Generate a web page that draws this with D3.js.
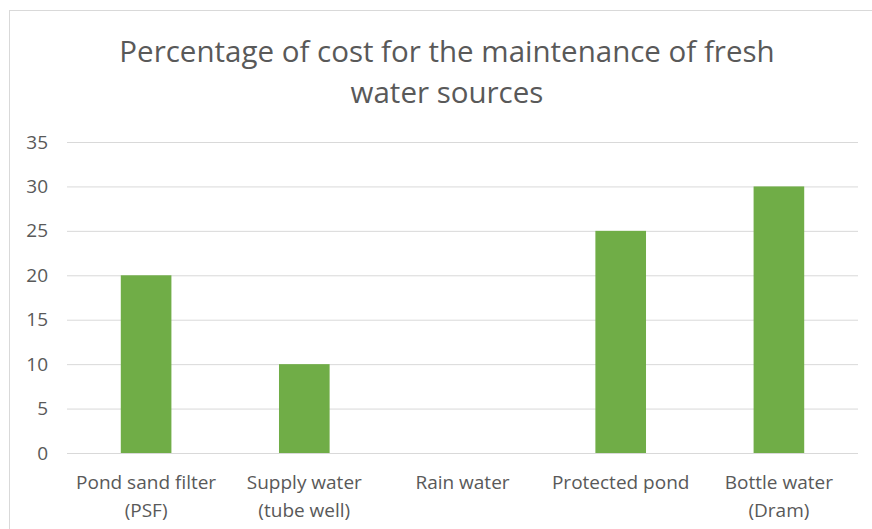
<!DOCTYPE html>
<html>
<head>
<meta charset="utf-8">
<script src="https://cdn.jsdelivr.net/npm/d3@7"></script>
<style>
  body { margin: 0; background: #fff; }
  svg { display: block; font-family: "Open Sans", sans-serif; }
</style>
</head>
<body>
<svg id="chart" width="872" height="529"></svg>
<script>
const categories = [
  ["Pond sand filter", "(PSF)"],
  ["Supply water", "(tube well)"],
  ["Rain water"],
  ["Protected pond"],
  ["Bottle water", "(Dram)"],
];
const values = [20, 10, 0, 25, 30];
const yTicks = [0, 5, 10, 15, 20, 25, 30, 35];
const titleLines = ["Percentage of cost for the maintenance of fresh", "water sources"];

const svg = d3.select("#chart");
const textColor = "#595959";

/** chart frame */
svg
  .append("rect")
  .attr("x", 9.5)
  .attr("y", 10.5)
  .attr("width", 900)
  .attr("height", 600)
  .attr("fill", "#fff")
  .attr("stroke", "#d9d9d9");

/** plot area */
const margin = { left: 67, right: 858, top: 142, bottom: 453 };

const x = d3
  .scaleBand()
  .domain(categories.map((d) => d.join(" ")))
  .range([margin.left, margin.right])
  .paddingInner(0.68)
  .paddingOuter(0.34);

const y = d3
  .scaleLinear()
  .domain([0, 35])
  .range([margin.bottom, margin.top]);

/** title */
svg
  .append("text")
  .attr("text-anchor", "middle")
  .attr("fill", textColor)
  .attr("font-size", 29.5)
  .selectAll("tspan")
  .data(titleLines)
  .join("tspan")
  .attr("x", 447)
  .attr("y", (d, i) => 62 + i * 41)
  .text((d) => d);

/** gridlines + y labels */
const yAxis = d3
  .axisLeft(y)
  .tickValues(yTicks)
  .tickSize(-(margin.right - margin.left))
  .tickPadding(19);

svg
  .append("g")
  .attr("transform", `translate(${margin.left},0)`)
  .call(yAxis)
  .call((g) => g.select(".domain").remove())
  .call((g) => g.selectAll(".tick line").attr("stroke", "#d9d9d9"))
  .call((g) =>
    g
      .selectAll(".tick text")
      .attr("fill", textColor)
      .attr("font-size", 19)
      .attr("font-family", "'Open Sans', sans-serif")
  );

/** bars */
svg
  .append("g")
  .selectAll("rect")
  .data(values)
  .join("rect")
  .attr("x", (d, i) => x(categories[i].join(" ")))
  .attr("width", x.bandwidth())
  .attr("y", (d) => y(d))
  .attr("height", (d) => y(0) - y(d))
  .attr("fill", "#70ad47");

/** baseline */
svg
  .append("line")
  .attr("x1", margin.left)
  .attr("x2", margin.right)
  .attr("y1", y(0) + 0.5)
  .attr("y2", y(0) + 0.5)
  .attr("stroke", "#d9d9d9");

/** category labels */
const xCenter = (d) => x(d.join(" ")) + x.bandwidth() / 2;
svg
  .append("g")
  .selectAll("text")
  .data(categories)
  .join("text")
  .attr("text-anchor", "middle")
  .attr("fill", textColor)
  .attr("font-size", 19)
  .each(function (d) {
    d3.select(this)
      .selectAll("tspan")
      .data(d)
      .join("tspan")
      .attr("x", xCenter(d))
      .attr("y", (t, i) => 489 + i * 28)
      .text((t) => t);
  });
</script>
</body>
</html>
